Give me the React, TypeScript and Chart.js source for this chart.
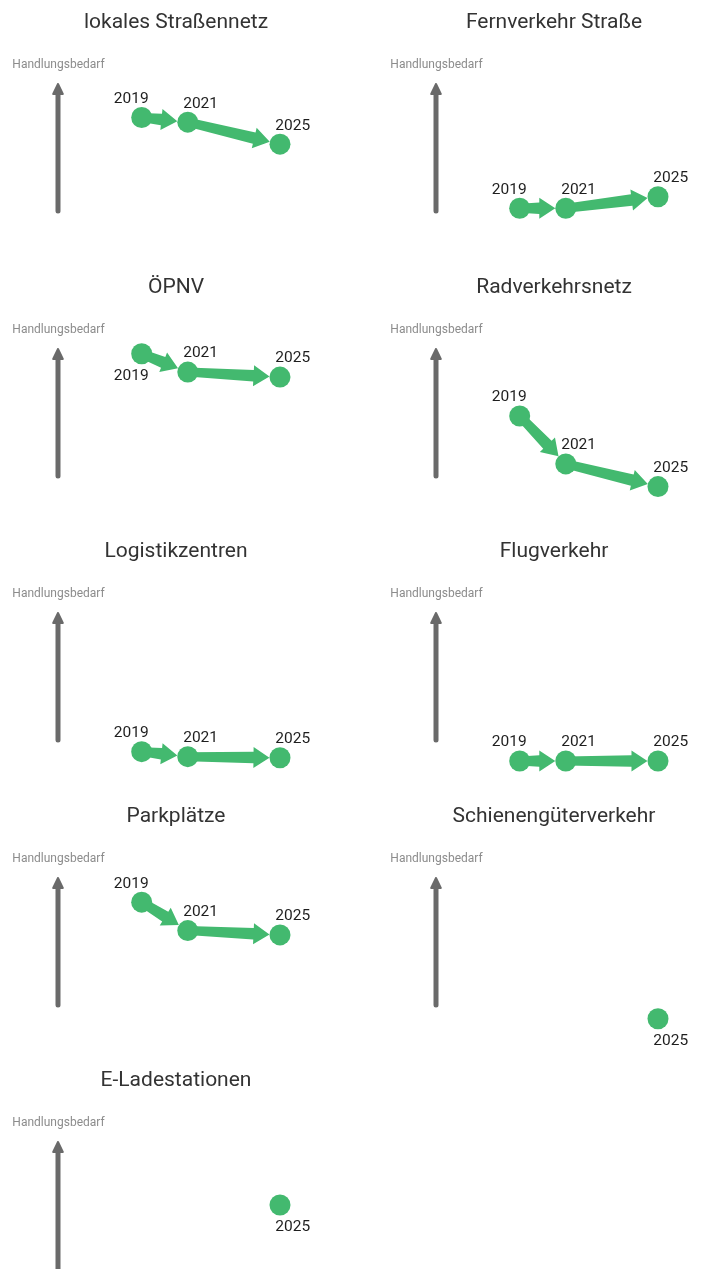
import React, { useEffect, useRef } from "react";
import { Chart, registerables } from "chart.js";

Chart.register(...registerables);

// ---------- data ----------
const years = [2019, 2021, 2025];

const panelTitles = [
  "lokales Straßennetz",
  "Fernverkehr Straße",
  "ÖPNV",
  "Radverkehrsnetz",
  "Logistikzentren",
  "Flugverkehr",
  "Parkplätze",
  "Schienengüterverkehr",
  "E-Ladestationen",
];

const lokalesStrassennetz = [4.18, 4.05, 3.44];
const fernverkehrStrasse = [1.66, 1.66, 1.98];
const oepnv = [4.98, 4.47, 4.33];
const radverkehrsnetz = [3.25, 1.92, 1.29];
const logistikzentren = [1.26, 1.12, 1.09];
const flugverkehr = [1.0, 1.0, 1.0];
const parkplaetze = [4.44, 3.65, 3.53];
const schienengueterverkehr = [null, null, 1.2];
const eLadestationen = [null, null, 3.36];

const panelValues: (number | null)[][] = [
  lokalesStrassennetz,
  fernverkehrStrasse,
  oepnv,
  radverkehrsnetz,
  logistikzentren,
  flugverkehr,
  parkplaetze,
  schienengueterverkehr,
  eLadestationen,
];

// year label above or below its point
const labelPlacement = [
  ["above", "above", "above"],
  ["above", "above", "above"],
  ["below", "above", "above"],
  ["above", "above", "above"],
  ["above", "above", "above"],
  ["above", "above", "above"],
  ["above", "above", "above"],
  ["above", "above", "below"],
  ["above", "above", "below"],
];

const axisLabel = "Handlungsbedarf";

// ---------- styling ----------
const GREEN = "#43b96f";
const AXIS_GRAY = "#6a6a6a";
const PANEL_W = 378;
const PANEL_H = 265;
const ROW_STEP = 264.5;
const FONT = "Roboto, 'Noto Sans', sans-serif";

function drawSegment(
  ctx: CanvasRenderingContext2D,
  x0: number,
  y0: number,
  x1: number,
  y1: number,
  r: number
) {
  const dx = x1 - x0;
  const dy = y1 - y0;
  const L = Math.hypot(dx, dy);
  if (L < 1) return;
  const ux = dx / L;
  const uy = dy / L;
  const nx = -uy;
  const ny = ux;
  const headLen = 16;
  const headHalf = 10.5;
  const w0 = 4.5;
  const w1 = 5.8;
  const tipX = x1 - ux * r;
  const tipY = y1 - uy * r;
  const bx = tipX - ux * headLen;
  const by = tipY - uy * headLen;
  ctx.beginPath();
  ctx.moveTo(x0 + nx * w0, y0 + ny * w0);
  ctx.lineTo(bx + nx * w1, by + ny * w1);
  ctx.lineTo(bx + nx * headHalf, by + ny * headHalf);
  ctx.lineTo(tipX, tipY);
  ctx.lineTo(bx - nx * headHalf, by - ny * headHalf);
  ctx.lineTo(bx - nx * w1, by - ny * w1);
  ctx.lineTo(x0 - nx * w0, y0 - ny * w0);
  ctx.closePath();
  ctx.fill();
}

function Panel({ index }: { index: number }) {
  const ref = useRef<HTMLCanvasElement | null>(null);

  useEffect(() => {
    if (!ref.current) return;
    const values = panelValues[index];
    const title = panelTitles[index];
    const placement = labelPlacement[index];
    const points: { x: number; y: number; i: number }[] = [];
    years.forEach((yr, i) => {
      const v = values[i];
      if (v !== null && v !== undefined) points.push({ x: yr, y: v, i });
    });
    const R = 10.5;

    const decor = {
      id: "decor" + index,
      beforeDatasetsDraw(chart: any) {
        const ctx: CanvasRenderingContext2D = chart.ctx;
        const { left, top } = chart.chartArea;
        ctx.save();
        // title
        ctx.fillStyle = "#333333";
        ctx.font = `21px ${FONT}`;
        ctx.textAlign = "center";
        ctx.textBaseline = "middle";
        ctx.fillText(title, left + 176, top + 22.5);
        // axis label
        ctx.fillStyle = "#8c8c8c";
        ctx.font = `12px ${FONT}`;
        ctx.fillText(axisLabel, left + 58.5, top + 64.5);
        // axis arrow
        const ax = left + 58;
        ctx.strokeStyle = AXIS_GRAY;
        ctx.fillStyle = AXIS_GRAY;
        ctx.lineWidth = 5;
        ctx.lineCap = "round";
        ctx.beginPath();
        ctx.moveTo(ax, top + 211);
        ctx.lineTo(ax, top + 92);
        ctx.stroke();
        ctx.lineWidth = 2;
        ctx.lineJoin = "round";
        ctx.beginPath();
        ctx.moveTo(ax, top + 84);
        ctx.lineTo(ax - 4.8, top + 94);
        ctx.lineTo(ax + 4.8, top + 94);
        ctx.closePath();
        ctx.fill();
        ctx.stroke();
        // trend arrows between points
        const meta = chart.getDatasetMeta(0);
        ctx.fillStyle = GREEN;
        for (let k = 0; k < meta.data.length - 1; k++) {
          const a = meta.data[k];
          const b = meta.data[k + 1];
          drawSegment(ctx, a.x, a.y, b.x, b.y, R);
        }
        ctx.restore();
      },
      afterDatasetsDraw(chart: any) {
        const ctx: CanvasRenderingContext2D = chart.ctx;
        const meta = chart.getDatasetMeta(0);
        ctx.save();
        ctx.fillStyle = "#1e1e1e";
        ctx.font = `15.5px ${FONT}`;
        ctx.textAlign = "center";
        ctx.textBaseline = "middle";
        meta.data.forEach((el: any, k: number) => {
          const p = points[k];
          const dx = p.i === 0 ? -10.5 : 12.8;
          const dy = placement[p.i] === "below" ? 22 : -18.5;
          ctx.fillText(String(years[p.i]), el.x + dx, el.y + dy);
        });
        ctx.restore();
      },
    };

    const chart = new Chart(ref.current, {
      type: "scatter",
      data: {
        datasets: [
          {
            data: points.map((p) => ({ x: p.x, y: p.y })),
            pointRadius: R,
            pointHoverRadius: R,
            pointBackgroundColor: GREEN,
            pointBorderWidth: 0,
            showLine: false,
            clip: false,
          },
        ],
      },
      options: {
        responsive: false,
        animation: false,
        events: [],
        layout: { padding: 0, autoPadding: false },
        plugins: {
          legend: { display: false },
          tooltip: { enabled: false },
          title: { display: false },
        },
        scales: {
          x: { type: "linear", display: false, min: 2012.853, max: 2029.252 },
          y: { type: "linear", display: false, min: 0.0833, max: 7.4444 },
        },
      },
      plugins: [decor],
    });
    return () => chart.destroy();
  }, [index]);

  const col = index % 2;
  const row = Math.floor(index / 2);
  return (
    <div
      style={{
        position: "absolute",
        left: col * PANEL_W,
        top: Math.round(row * ROW_STEP),
        width: PANEL_W,
        height: PANEL_H,
      }}
    >
      <canvas ref={ref} width={PANEL_W} height={PANEL_H} style={{ display: "block" }} />
    </div>
  );
}

export default function App() {
  return (
    <div
      style={{
        position: "fixed",
        top: 0,
        left: 0,
        width: 704,
        height: 1269,
        overflow: "hidden",
        background: "#ffffff",
      }}
    >
      {panelTitles.map((_, i) => (
        <Panel key={i} index={i} />
      ))}
    </div>
  );
}
